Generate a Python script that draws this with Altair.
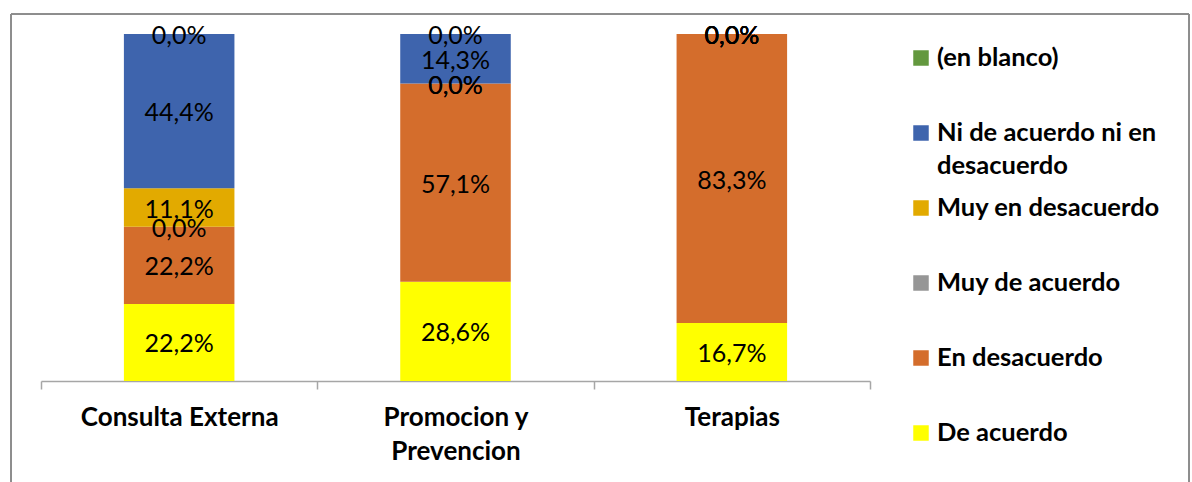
import altair as alt
import pandas as pd

# Services on the x axis
servicios = ["Consulta Externa", "Promocion y Prevencion", "Terapias"]

# Answer categories, bottom of the stack first
respuestas = [
    "De acuerdo",
    "En desacuerdo",
    "Muy de acuerdo",
    "Muy en desacuerdo",
    "Ni de acuerdo ni en desacuerdo",
    "(en blanco)",
]
colores = ["#FFFF00", "#D46D2C", "#969696", "#E2AA00", "#3E64AD", "#63983E"]

# Share of answers (%) per service, in the order of `respuestas`
consulta_externa = [22.2, 22.2, 0.0, 11.1, 44.4, 0.0]
promocion_prevencion = [28.6, 57.1, 0.0, 0.0, 14.3, 0.0]
terapias = [16.7, 83.3, 0.0, 0.0, 0.0, 0.0]

# Legend texts, top entry first
leyenda_orden = list(reversed(respuestas))
leyenda_textos = [
    "(en blanco)",
    "Ni de acuerdo ni en\ndesacuerdo",
    "Muy en desacuerdo",
    "Muy de acuerdo",
    "En desacuerdo",
    "De acuerdo",
]

FUENTE = "Lato"

filas = []
for servicio, valores in zip(servicios, [consulta_externa, promocion_prevencion, terapias]):
    for orden, (resp, val) in enumerate(zip(respuestas, valores)):
        filas.append({"servicio": servicio, "respuesta": resp, "orden": orden, "valor": val})
datos = pd.DataFrame(filas)

leyenda = pd.DataFrame({"respuesta": leyenda_orden, "texto": leyenda_textos})

color = alt.Color(
    "respuesta:N",
    scale=alt.Scale(domain=respuestas, range=colores),
    legend=None,
)

x_enc = alt.X(
    "servicio:N",
    sort=servicios,
    scale=alt.Scale(paddingInner=0, paddingOuter=0),
    axis=alt.Axis(
        title=None,
        labelAngle=0,
        labelFont=FUENTE,
        labelFontWeight="bold",
        labelFontSize=26,
        labelColor="#000000",
        labelBaseline="top",
        labelPadding=15,
        labelLineHeight=34,
        labelLimit=0,
        labelExpr="datum.value == 'Promocion y Prevencion' ? ['Promocion y', 'Prevencion'] : datum.label",
        domainColor="#A6A6A6",
        domainWidth=1.5,
        tickColor="#A6A6A6",
        tickWidth=1.5,
        tickSize=8,
        tickBand="extent",
    ),
)

base = (
    alt.Chart(datos)
    .transform_stack(
        stack="valor",
        groupby=["servicio"],
        as_=["y0", "y1"],
        offset="normalize",
        sort=[alt.SortField("orden", order="ascending")],
    )
    .transform_calculate(
        medio="(datum.y0 + datum.y1) / 2",
        etiqueta="replace(format(datum.valor, '.1f'), '.', ',') + '%'",
    )
)

y_scale = alt.Scale(domain=[0, 1], nice=False, zero=True)

barras = base.mark_bar(width={"band": 0.4}).encode(
    x=x_enc,
    y=alt.Y("y0:Q", scale=y_scale, axis=None),
    y2="y1:Q",
    color=color,
)

etiquetas = base.mark_text(
    font=FUENTE, fontSize=25, color="#000000", baseline="middle", dy=2
).encode(
    x=x_enc,
    y=alt.Y("medio:Q", scale=y_scale, axis=None),
    text="etiqueta:N",
)

y_leyenda = alt.Y(
    "respuesta:N",
    sort=leyenda_orden,
    scale=alt.Scale(domain=leyenda_orden, range=[24, 399], padding=0),
    axis=None,
)

cuadros = alt.Chart(leyenda).mark_square(size=240, opacity=1, filled=True).encode(
    x=alt.value(880),
    y=y_leyenda,
    color=color,
)

textos = alt.Chart(leyenda).mark_text(
    font=FUENTE,
    fontSize=25.5,
    fontWeight="bold",
    color="#000000",
    align="left",
    baseline="top",
    dy=-12.5,
    lineBreak="\n",
    lineHeight=33,
).encode(
    x=alt.value(896),
    y=y_leyenda,
    text="texto:N",
)

# Outer frame of the chart area
marco = alt.Chart(leyenda).mark_rect(
    filled=False, stroke="#8C8C8C", strokeWidth=1
).encode(
    x=alt.value(-30),
    x2=alt.value(1148),
    y=alt.value(-20),
    y2=alt.value(480),
)

chart = (
    alt.layer(marco, barras, etiquetas, cuadros, textos)
    .resolve_scale(y="independent")
    .properties(
        width=829,
        height=347,
        padding={"left": 10, "top": 13, "right": 0, "bottom": 0},
        background="#FFFFFF",
    )
    .configure_view(stroke=None)
)

chart.save("out.html", embed_options={"renderer": "svg", "actions": False})
